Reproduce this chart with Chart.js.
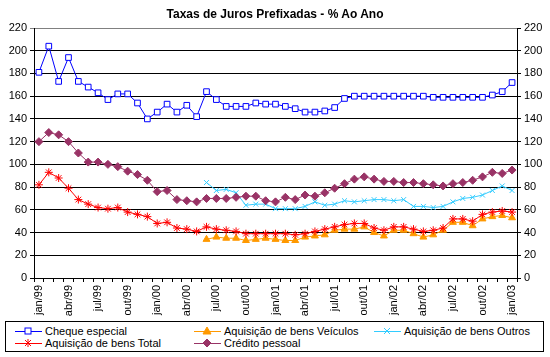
<!DOCTYPE html>
<html><head><meta charset="utf-8">
<script src="https://cdn.jsdelivr.net/npm/chart.js@4/dist/chart.umd.min.js"></script>
<style>
html,body{margin:0;padding:0;background:#fff;}
#wrap{position:relative;width:550px;height:357px;font-family:Arial,"Liberation Sans",sans-serif;}
#title{position:absolute;left:0;top:7px;width:550px;text-align:center;font-weight:bold;font-size:12px;color:#000;}
#legend{position:absolute;left:5px;top:321px;width:537px;height:29px;border:1px solid #000;background:#fff;font-size:11px;}
.li{position:absolute;height:12px;line-height:12px;white-space:nowrap;}
.li svg{position:absolute;left:0;top:0;}
.li span{position:absolute;left:30px;top:0;}
</style></head>
<body><div id="wrap">
<canvas id="c" width="550" height="357"></canvas>
<div id="title">Taxas de Juros Prefixadas - % Ao Ano</div>
<div id="legend"></div>
</div>
<script>
const months = ['jan','fev','mar','abr','mai','jun','jul','ago','set','out','nov','dez'];
const categories = [];
for (let y = 99; y <= 103; y++) { for (let m = 0; m < 12; m++) { if (y === 103 && m > 0) break; categories.push(months[m] + '/' + String(y % 100).padStart(2, '0')); } }
const yTicks = [0,20,40,60,80,100,120,140,160,180,200,220];
const N = null;
const chequeEspecial = [181,204,173,194,173,168,163,157,162,162,154,140,146,153,146,152,142,
  164,157,151,151,151,154,153,153,151,149,146,146,147,150,158,160,160,160,
  160,160,160,160,160,159,159,159,159,159,159,161,164,172];
const bensTotal = [82,93,88,79,69,65,62,61,62,58,56,54,48,49,44,43,41,
  45,43,42,41,39,39,39,39,39,38,39,41,43,45,47,48,48,44,
  42,45,45,43,41,42,44,52,52,50,56,58,59,58];
const bensVeiculos = [N,N,N,N,N,N,N,N,N,N,N,N,N,N,N,N,N,
  34,36,35,35,33,34,35,34,33,33,36,37,38,42,43,43,45,40,
  37,42,42,39,36,38,42,49,49,46,52,54,55,53];
const creditoPessoal = [120,128,126,120,110,102,102,100,98,94,91,86,76,77,69,68,67,
  70,70,70,71,72,72,68,67,71,69,73,72,75,79,83,87,89,87,
  85,85,84,84,83,82,81,83,84,86,89,93,92,95];
const bensOutros = [N,N,N,N,N,N,N,N,N,N,N,N,N,N,N,N,N,
  84,77,78,75,64,65,65,61,61,61,63,67,64,65,68,67,68,69,
  69,68,69,63,63,62,63,67,70,71,73,77,81,77];

const series = [
  {label:'Cheque especial', data:chequeEspecial, color:'#0000FF', style:'rect', r:4, fill:'#FFFFFF'},
  {label:'Aquisição de bens Total', data:bensTotal, color:'#FF0000', style:'star', r:4, fill:'#FF0000'},
  {label:'Aquisição de bens Veículos', data:bensVeiculos, color:'#FF9900', style:'triangle', r:4, fill:'#FF9900'},
  {label:'Crédito  pessoal', data:creditoPessoal, color:'#993366', style:'rectRot', r:4, fill:'#993366'},
  {label:'Aquisição de bens Outros', data:bensOutros, color:'#33CCFF', style:'crossRot', r:3.5, fill:'#33CCFF'}
];

const font = {family:'Arial, "Liberation Sans", sans-serif', size:11};
new Chart(document.getElementById('c'), {
  type:'line',
  data:{labels:categories, datasets:series.map(s => ({
    label:s.label, data:s.data, borderColor:s.color, borderWidth:1,
    pointStyle:s.style, pointRadius:s.r, pointHoverRadius:s.r,
    pointBackgroundColor:s.fill, pointBorderColor:s.color, pointBorderWidth:1,
    tension:0, fill:false
  }))},
  options:{
    responsive:false, animation:false, events:[],
    layout:{padding:{top:28,bottom:39,left:0,right:0}},
    plugins:{legend:{display:false}, title:{display:false}, tooltip:{enabled:false}},
    scales:{
      x:{
        offset:true,
        grid:{offset:true, drawOnChartArea:false, drawTicks:true, tickLength:4, color:'#000'},
        border:{color:'#000'},
        ticks:{autoSkip:false, minRotation:90, maxRotation:90, padding:3, color:'#000', font:font,
          callback:function(v,i){ return i % 3 === 0 ? categories[i] : ''; }},
        afterFit:function(s){ s.height = 40; }
      },
      y:{
        position:'left', min:0, max:220,
        afterBuildTicks:function(s){ s.ticks = yTicks.map(v => ({value:v})); },
        grid:{color:function(c){ return c.tick && c.tick.value === 220 ? '#808080' : '#000'; }, tickLength:4},
        border:{color:'#000'},
        ticks:{color:'#000', font:font, padding:3},
        afterFit:function(s){ s.width = 34; }
      },
      y2:{
        position:'right', min:0, max:220,
        afterBuildTicks:function(s){ s.ticks = yTicks.map(v => ({value:v})); },
        grid:{drawOnChartArea:false, color:'#000', tickLength:4},
        border:{color:'#000'},
        ticks:{color:'#000', font:font, padding:3},
        afterFit:function(s){ s.width = 33; }
      }
    }
  }
});

// HTML legend
const legendPos = [
  {i:0, x:9, y:3}, {i:2, x:188, y:3}, {i:4, x:368, y:3},
  {i:1, x:9, y:15}, {i:3, x:188, y:15}
];
function markerSvg(s){
  const c = s.color, f = s.fill, cx = 13, cy = 6;
  let m = '';
  if (s.style === 'rect') m = `<rect x="${cx-3}" y="${cy-3}" width="6" height="6" fill="${f}" stroke="${c}"/>`;
  else if (s.style === 'triangle') m = `<polygon points="${cx},${cy-4} ${cx+4},${cy+3} ${cx-4},${cy+3}" fill="${f}" stroke="${c}"/>`;
  else if (s.style === 'rectRot') m = `<polygon points="${cx},${cy-4} ${cx+4},${cy} ${cx},${cy+4} ${cx-4},${cy}" fill="${f}" stroke="${c}"/>`;
  else if (s.style === 'star') m = `<path d="M${cx-3} ${cy-3}L${cx+3} ${cy+3}M${cx+3} ${cy-3}L${cx-3} ${cy+3}M${cx} ${cy-4}L${cx} ${cy+4}" stroke="${c}"/>`;
  else m = `<path d="M${cx-3} ${cy-3}L${cx+3} ${cy+3}M${cx+3} ${cy-3}L${cx-3} ${cy+3}" stroke="${c}"/>`;
  return `<svg width="27" height="12"><line x1="0" y1="${cy+0.5}" x2="27" y2="${cy+0.5}" stroke="${c}" stroke-width="1"/>${m}</svg>`;
}
const lg = document.getElementById('legend');
legendPos.forEach(p => {
  const s = series[p.i];
  const d = document.createElement('div');
  d.className = 'li';
  d.style.left = p.x + 'px'; d.style.top = p.y + 'px';
  d.innerHTML = markerSvg(s) + '<span>' + s.label + '</span>';
  lg.appendChild(d);
});
</script>
</body></html>
